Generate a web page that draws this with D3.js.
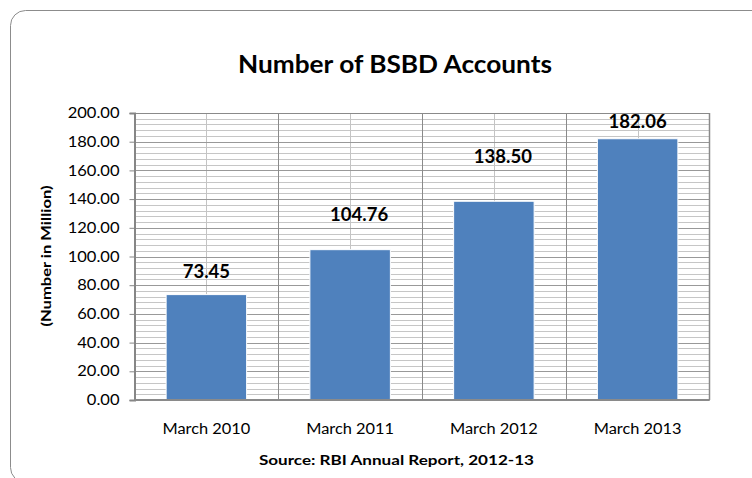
<!DOCTYPE html>
<html>
<head>
<meta charset="utf-8">
<script src="https://cdn.jsdelivr.net/npm/d3@7"></script>
<style>
  html, body { margin: 0; padding: 0; background: #fff; }
  svg { display: block; font-family: Lato, "Open Sans", sans-serif; }
</style>
</head>
<body>
<svg id="chart" width="752" height="478"></svg>
<script>
// ---- data ----
const categories = ["March 2010", "March 2011", "March 2012", "March 2013"];
const accounts = [73.45, 104.76, 138.50, 182.06];
const valueLabels = ["73.45", "104.76", "138.50", "182.06"];
// where each value label sits (in axis units)
const labelAt = [84.8, 124.5, 165.0, 189.3];
const labelNudge = [0, 9, 9, 0];
const yTicks = [0, 20, 40, 60, 80, 100, 120, 140, 160, 180, 200];
const titleText = "Number of BSBD Accounts";
const yTitle = "(Number in Million)";
const sourceText = "Source: RBI Annual Report, 2012-13";

// ---- layout ----
const svg = d3.select("#chart");
const plot = { left: 134.5, right: 709.5, top: 113, bottom: 400 };

// widen glyphs horizontally to match the reference's wide typeface
function stretch(sel, factor) {
  sel.each(function () {
    const w = this.getComputedTextLength();
    d3.select(this).attr("textLength", w * factor).attr("lengthAdjust", "spacingAndGlyphs");
  });
}

// outer chart border (rounded)
svg.append("rect")
  .attr("x", 10.5).attr("y", 10.5)
  .attr("width", 770).attr("height", 472)
  .attr("rx", 15).attr("ry", 15)
  .attr("fill", "#fff")
  .attr("stroke", "#8c8c8c").attr("stroke-width", 1);

const x = d3.scaleBand().domain(categories)
  .range([plot.left, plot.right])
  .paddingInner(0.44).paddingOuter(0.22);
const y = d3.scaleLinear().domain([0, 200]).range([plot.bottom, plot.top]);

const g = svg.append("g");
const px = v => Math.round(v) + 0.5;

// minor horizontal gridlines every 4
const minor = d3.range(0, 201, 4).filter(v => v % 20 !== 0);
g.selectAll("line.hminor").data(minor).enter().append("line")
  .attr("x1", plot.left).attr("x2", plot.right)
  .attr("y1", d => px(y(d))).attr("y2", d => px(y(d)))
  .attr("stroke", "#c6c6c6").attr("stroke-width", 1);

// vertical minor gridlines at category centres
g.selectAll("line.vminor").data(categories).enter().append("line")
  .attr("x1", d => px(x(d) + x.bandwidth() / 2))
  .attr("x2", d => px(x(d) + x.bandwidth() / 2))
  .attr("y1", plot.top).attr("y2", plot.bottom)
  .attr("stroke", "#c4c4c4").attr("stroke-width", 1);

// major horizontal gridlines every 20
g.selectAll("line.hmajor").data(yTicks).enter().append("line")
  .attr("x1", plot.left).attr("x2", plot.right)
  .attr("y1", d => px(y(d))).attr("y2", d => px(y(d)))
  .attr("stroke", "#999999").attr("stroke-width", 1);

// vertical major gridlines at category boundaries
const bounds = categories.map((c, i) => x(c) + x.bandwidth() + x.step() * x.paddingInner() / 2)
  .slice(0, categories.length - 1);
g.selectAll("line.vmajor").data(bounds).enter().append("line")
  .attr("x1", d => px(d)).attr("x2", d => px(d))
  .attr("y1", plot.top).attr("y2", plot.bottom)
  .attr("stroke", "#8a8a8a").attr("stroke-width", 1);

// plot border top/right
g.append("line").attr("x1", plot.left).attr("x2", plot.right)
  .attr("y1", plot.top + 0.5).attr("y2", plot.top + 0.5)
  .attr("stroke", "#8a8a8a");
g.append("line").attr("x1", plot.right).attr("x2", plot.right)
  .attr("y1", plot.top).attr("y2", plot.bottom)
  .attr("stroke", "#8a8a8a").attr("stroke-width", 1.5);

// bars
g.selectAll("rect.bar").data(accounts).enter().append("rect")
  .attr("x", (d, i) => x(categories[i]))
  .attr("y", d => y(d))
  .attr("width", x.bandwidth())
  .attr("height", d => y(0) - y(d))
  .attr("fill", "#4f81bd")
  .attr("stroke", "#ffffff").attr("stroke-width", 1);

// y axis
const yAxis = d3.axisLeft(y).tickValues(yTicks).tickFormat(d3.format(".2f")).tickSize(5).tickPadding(10);
const ya = svg.append("g").attr("transform", `translate(${plot.left},0)`).call(yAxis);
ya.select(".domain").attr("stroke", "#868686").attr("stroke-width", 2);
ya.selectAll(".tick line").attr("stroke", "#868686");
ya.selectAll(".tick text").attr("font-size", 14.5).attr("fill", "#000")
  .attr("font-family", "Lato");
stretch(ya.selectAll(".tick text"), 1.14);

// x axis line
const xAxis = d3.axisBottom(x).tickSize(0).tickPadding(24);
const xa = svg.append("g").attr("transform", `translate(0,${plot.bottom})`).call(xAxis);
xa.select(".domain").attr("stroke", "#8a8a8a").attr("stroke-width", 2)
  .attr("d", `M${plot.left},0H${plot.right}`);
xa.selectAll(".tick text").attr("font-size", 14.5).attr("fill", "#000")
  .attr("font-family", "Lato");
stretch(xa.selectAll(".tick text"), 1.13);

// value labels
svg.selectAll("text.vl").data(accounts).enter().append("text")
  .attr("x", (d, i) => x(categories[i]) + x.bandwidth() / 2 + labelNudge[i])
  .attr("y", (d, i) => y(labelAt[i]))
  .attr("text-anchor", "middle")
  .attr("font-size", 18.5).attr("font-weight", "bold").attr("fill", "#000")
  .text((d, i) => valueLabels[i]);

// title
const t = svg.append("text").attr("x", 395).attr("y", 73)
  .attr("text-anchor", "middle")
  .attr("font-size", 24.5).attr("font-weight", "bold").attr("fill", "#000")
  .text(titleText);
stretch(t, 1.07);

// y title
const yt = svg.append("text")
  .attr("transform", "translate(51,256) rotate(-90)")
  .attr("text-anchor", "middle")
  .attr("font-size", 14).attr("font-weight", "bold").attr("fill", "#000")
  .text(yTitle);
stretch(yt, 1.18);

// source
const st = svg.append("text").attr("x", 396.5).attr("y", 465)
  .attr("text-anchor", "middle")
  .attr("font-size", 14).attr("font-weight", "bold").attr("fill", "#000")
  .text(sourceText);
stretch(st, 1.22);
</script>
</body>
</html>
